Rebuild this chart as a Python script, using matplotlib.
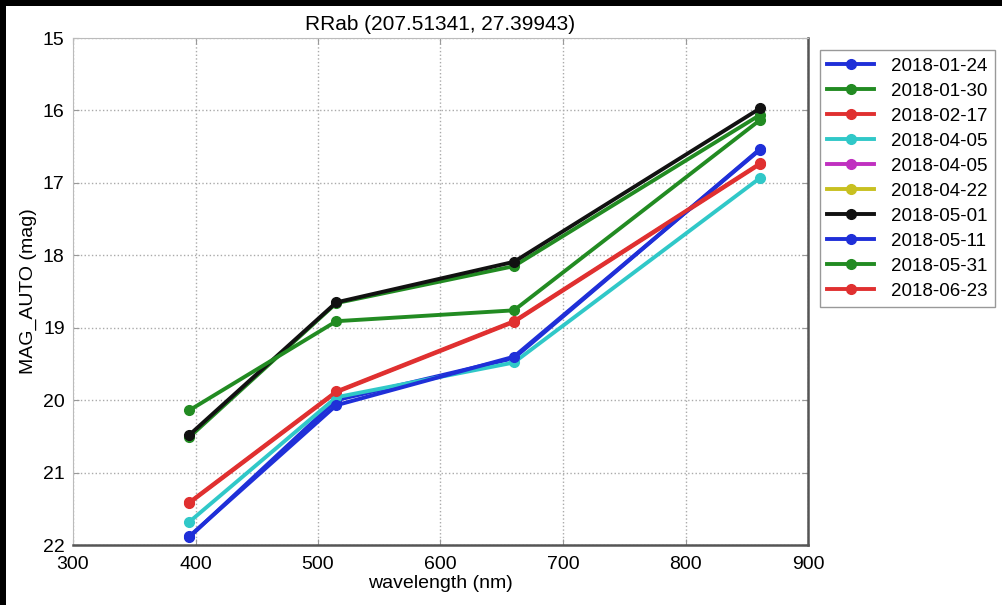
import numpy as np
import matplotlib
matplotlib.use("Agg")
import matplotlib.pyplot as plt
from matplotlib.patches import Rectangle

plt.rcParams['font.family'] = ['Liberation Sans', 'DejaVu Sans']

wavelength = [395, 515, 660, 861]
dates = ["2018-01-24", "2018-01-30", "2018-02-17", "2018-04-05", "2018-04-05",
         "2018-04-22", "2018-05-01", "2018-05-11", "2018-05-31", "2018-06-23"]
colors = ['#1f2fd8', '#228b22', '#e03030', '#30c8c8', '#c030c0',
          '#c8c020', '#111111', '#1f2fd8', '#228b22', '#e03030']

mag_0124 = [21.89, 20.00, 19.42, 16.53]
mag_0130 = [20.51, 18.66, 18.15, 16.06]
mag_0217 = [21.42, 19.89, 18.92, 16.74]
mag_0405a = [21.68, 19.96, 19.48, 16.93]
mag_0405b = [np.nan, np.nan, np.nan, np.nan]
mag_0422 = [np.nan, np.nan, np.nan, np.nan]
mag_0501 = [20.48, 18.65, 18.09, 15.97]
mag_0511 = [21.88, 20.07, 19.40, 16.54]
mag_0531 = [20.14, 18.91, 18.76, 16.13]
mag_0623 = [21.41, 19.88, 18.91, 16.73]

series = [mag_0124, mag_0130, mag_0217, mag_0405a, mag_0405b,
          mag_0422, mag_0501, mag_0511, mag_0531, mag_0623]

fig = plt.figure(figsize=(10.03, 6.05), dpi=100)
fig.patch.set_facecolor('black')
fig.patches.append(Rectangle((6/1003, 0), 1, 1 - 6/605, transform=fig.transFigure,
                             facecolor='white', edgecolor='none', zorder=-10))

ax = fig.add_axes([73/1003, 60/605, 735/1003, 507/605])

for d, c, m in zip(dates, colors, series):
    ax.plot(wavelength, m, '-o', color=c, lw=2.8, ms=7, label=d)

ax.set_xlim(300, 900)
ax.set_ylim(22, 15)
ax.set_xticks(np.arange(300, 901, 100))
ax.set_yticks(np.arange(15, 23, 1))
ax.tick_params(labelsize=14, direction='in', top=True, right=True, length=4,
               color='#999999')
ax.tick_params(axis='x', pad=8)
ax.tick_params(axis='y', pad=6)
ax.grid(True, linestyle=':', color='#aaaaaa', lw=1)

for s in ['top', 'left']:
    ax.spines[s].set_color('#bbbbbb')
for s in ['bottom', 'right']:
    ax.spines[s].set_color('#555555')
    ax.spines[s].set_linewidth(1.8)

ax.set_title("RRab (207.51341, 27.39943)", fontsize=15, pad=6)
ax.set_xlabel("wavelength (nm)", fontsize=14, labelpad=1)
ax.set_ylabel("MAG_AUTO (mag)", fontsize=14, labelpad=4)

leg = ax.legend(loc='upper left', bbox_to_anchor=(1.016, 0.976), borderaxespad=0,
                fontsize=13.5, handlelength=2.5, handletextpad=0.9,
                labelspacing=0.42, fancybox=False, framealpha=1,
                edgecolor='#999999')

fig.savefig("out.png", dpi=100, facecolor=fig.get_facecolor())
